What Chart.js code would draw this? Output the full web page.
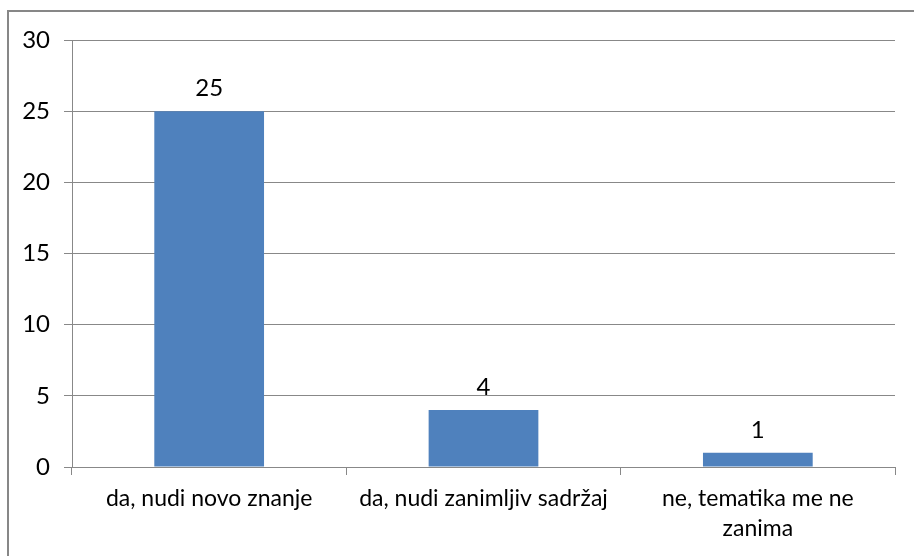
<!DOCTYPE html>
<html><head><meta charset="utf-8">
<script src="https://cdn.jsdelivr.net/npm/chart.js@4/dist/chart.umd.min.js"></script>
<style>
html,body{margin:0;padding:0;background:#fff;}
#wrap{position:absolute;left:0;top:0;width:914px;height:556px;}
#frame{position:absolute;left:7px;top:10px;width:940px;height:600px;border:2px solid #878787;box-sizing:border-box;pointer-events:none;}
</style></head>
<body>
<div id="wrap"><canvas id="c" width="914" height="556"></canvas></div>
<div id="frame"></div>
<script>
const categories = ["da, nudi novo znanje", "da, nudi zanimljiv sadržaj", ["ne, tematika me ne", "zanima"]];
const values = [25, 4, 1];
const yTicks = [0, 5, 10, 15, 20, 25, 30];

const FONT = "Lato, 'Open Sans', sans-serif";
const labelPlugin = {
  id: 'valLabels',
  afterDatasetsDraw(chart) {
    const ctx = chart.ctx;
    const meta = chart.getDatasetMeta(0);
    ctx.save();
    ctx.font = "24px " + FONT;
    ctx.fillStyle = "#000";
    ctx.textAlign = "center";
    ctx.textBaseline = "middle";
    meta.data.forEach((bar, i) => {
      ctx.fillText(String(values[i]), bar.x, bar.y - 23);
    });
    ctx.restore();
  }
};

new Chart(document.getElementById('c'), {
  type: 'bar',
  data: {
    labels: categories,
    datasets: [{ data: values, backgroundColor: '#4F81BD', barPercentage: 0.4, categoryPercentage: 1 }]
  },
  plugins: [labelPlugin],
  options: {
    responsive: false,
    animation: false,
    devicePixelRatio: 1,
    layout: { padding: { top: 40, right: 19, left: 0, bottom: 0 } },
    plugins: { legend: { display: false }, tooltip: { enabled: false } },
    scales: {
      x: {
        afterFit(s) { s.height = 89; },
        grid: { offset: true, drawOnChartArea: false, tickLength: 8, color: '#888' },
        border: { color: '#888', width: 1 },
        ticks: { color: '#000', font: { family: FONT, size: 23, lineHeight: 1.3 }, padding: 9, maxRotation: 0, autoSkip: false }
      },
      y: {
        min: 0, max: 30,
        afterFit(s) { s.width = 72; },
        afterBuildTicks(s) { s.ticks = yTicks.map(v => ({ value: v })); },
        grid: { color: '#888', tickLength: 8 },
        border: { color: '#888', width: 1 },
        ticks: { color: '#000', font: { family: FONT, size: 24 }, padding: 14 }
      }
    }
  }
});
</script>
</body></html>
